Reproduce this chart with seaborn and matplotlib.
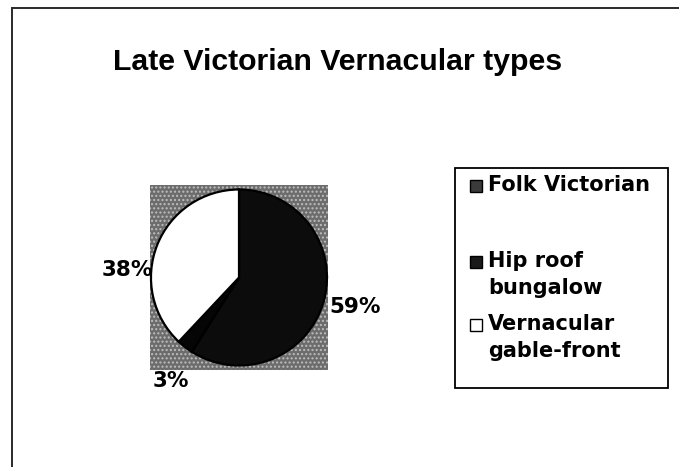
import matplotlib
matplotlib.use("Agg")
import matplotlib.pyplot as plt
from matplotlib.patches import Rectangle
import seaborn as sns

sns.set_theme(style="white")

categories = ["Folk Victorian", "Hip roof bungalow", "Vernacular gable-front"]
legend_labels = ["Folk Victorian", "Hip roof\nbungalow", "Vernacular\ngable-front"]
shares = [59, 3, 38]
title = "Late Victorian Vernacular types"

W, H = 679, 467
fig = plt.figure(figsize=(W / 100, H / 100), dpi=100)
fig.patch.set_facecolor("white")

def fx(px):
    return px / W

def fy(py):
    return 1 - py / H

# outer frame (left and top edges visible)
fig.patches.append(Rectangle((fx(12), fy(470)), fx(700) - fx(12), fy(8) - fy(470),
                             transform=fig.transFigure, fill=False,
                             edgecolor="#2a2a2a", linewidth=1.4))

fig.text(fx(338), fy(62), title, ha="center", va="center",
         fontsize=21.8, fontweight="bold", family="Liberation Sans", color="black")

# plot area
ax = fig.add_axes([fx(150), fy(370), fx(328) - fx(150), fy(185) - fy(370)])
ax.add_patch(Rectangle((0, 0), 1, 1, transform=ax.transAxes, facecolor="#6c6c6c",
                       edgecolor="#bdbdbd", hatch="....", linewidth=0, zorder=0))

wedge_colors = ["#0c0c0c", "#050505", "#ffffff"]
wedges, texts, autotexts = ax.pie(
    shares, colors=wedge_colors, startangle=90, counterclock=False,
    autopct=lambda p: f"{p:.0f}%", pctdistance=1.3,
    wedgeprops=dict(edgecolor="black", linewidth=1.6),
    textprops=dict(fontsize=15.5, fontweight="bold", family="DejaVu Sans", color="black"),
)
for w in wedges:
    w.set_zorder(2)
# Excel-like label placement nudges
label_pos = [(1.32, -0.34), (-0.78, -1.18), (-1.27, 0.09)]
for t, (x, y) in zip(autotexts, label_pos):
    t.set_position((x, y))
    t.set_zorder(5)
    t.set_clip_on(False)
ax.set_aspect("auto")
ax.set_xlim(-1.011, 1.011)
ax.set_ylim(-1.051, 1.051)
ax.set_frame_on(False)

# legend box
fig.patches.append(Rectangle((fx(455), fy(388)), fx(668) - fx(455), fy(168) - fy(388),
                             transform=fig.transFigure, facecolor="white",
                             edgecolor="black", linewidth=1.3))
legend_rows = [186, 262, 325]
marker_colors = ["#3a3a3a", "#1a1a1a", "#ffffff"]
for lab, row, mc in zip(legend_labels, legend_rows, marker_colors):
    fig.patches.append(Rectangle((fx(470), fy(row + 6)), fx(482) - fx(470), fy(row - 6) - fy(row + 6),
                                 transform=fig.transFigure, facecolor=mc,
                                 edgecolor="black", linewidth=1.0))
    fig.text(fx(488), fy(row - 11), lab, ha="left", va="top", fontsize=15,
             fontweight="bold", family="DejaVu Sans", color="black", linespacing=1.45)

fig.savefig("out.png", dpi=100, facecolor="white")
